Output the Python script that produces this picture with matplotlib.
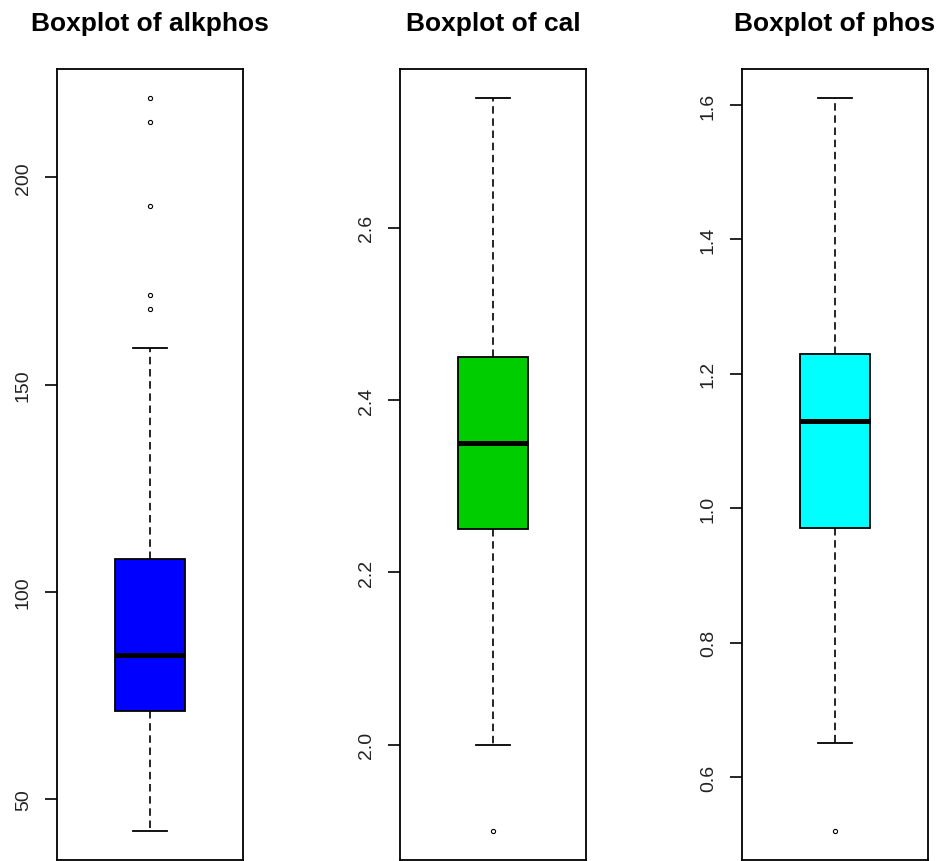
import matplotlib
matplotlib.use("Agg")
import matplotlib.pyplot as plt

plt.rcParams['font.family'] = ['Liberation Sans', 'DejaVu Sans']

# five-number summaries for each variable
variables = ['alkphos', 'cal', 'phos']
whislo = [42.3, 2.00, 0.65]
q1 = [71.3, 2.25, 0.97]
med = [84.8, 2.35, 1.13]
q3 = [107.8, 2.45, 1.23]
whishi = [158.9, 2.75, 1.61]
fliers = [[219.1, 213.3, 193.0, 171.5, 168.3], [1.90], [0.52]]
colors = ['#0000FF', '#00CD00', '#00FFFF']
yticks = [[50, 100, 150, 200], [2.0, 2.2, 2.4, 2.6], [0.6, 0.8, 1.0, 1.2, 1.4, 1.6]]
yticklabels = [['50', '100', '150', '200'], ['2.0', '2.2', '2.4', '2.6'],
               ['0.6', '0.8', '1.0', '1.2', '1.4', '1.6']]

W, H = 937, 862
fig = plt.figure(figsize=(W / 100, H / 100), dpi=100)
lefts = [57, 400, 742]
ax_w = 186
top_px, bot_px = 70, 861

for i, name in enumerate(variables):
    ax = fig.add_axes([lefts[i] / W, 1 - bot_px / H, ax_w / W, (bot_px - top_px) / H])
    stats = [dict(med=med[i], q1=q1[i], q3=q3[i], whislo=whislo[i],
                  whishi=whishi[i], fliers=fliers[i], label=name)]
    ax.bxp(stats, positions=[1], widths=0.376, patch_artist=True,
           boxprops=dict(facecolor=colors[i], edgecolor='black', linewidth=1.3),
           medianprops=dict(color='black', linewidth=3.6, solid_capstyle='butt'),
           whiskerprops=dict(color='black', linewidth=1.2, linestyle=(0, (4.5, 2.8))),
           capprops=dict(color='black', linewidth=1.3),
           flierprops=dict(marker='o', markersize=3, markerfacecolor='none',
                           markeredgecolor='black', markeredgewidth=0.8),
           capwidths=0.188)
    lo = min(whislo[i], min(fliers[i]))
    hi = max(whishi[i], max(fliers[i]))
    pad = (hi - lo) * 0.04
    ax.set_ylim(lo - pad, hi + pad)
    ax.set_xlim(0.5, 1.5)
    ax.set_xticks([])
    ax.set_yticks(yticks[i])
    ax.set_yticklabels(yticklabels[i], rotation=90, va='center', fontsize=14,
                       color='#222222')
    ax.tick_params(axis='y', direction='out', length=9, width=1.2, pad=9, colors='black')
    for t in ax.get_yticklabels():
        t.set_color('#222222')
    for s in ax.spines.values():
        s.set_linewidth(1.3)
    fig.text((lefts[i] + ax_w / 2) / W, 1 - 31 / H, 'Boxplot of ' + name,
             ha='center', va='baseline', fontsize=19, fontweight='bold')

fig.savefig('out.png', dpi=100)
